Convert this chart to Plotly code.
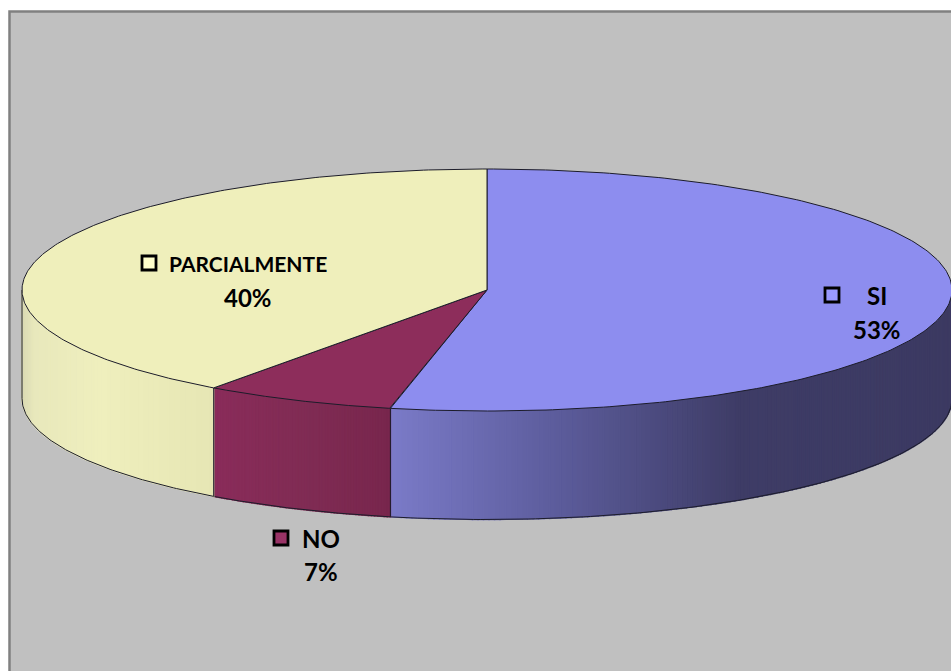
import numpy as np
import plotly.graph_objects as go

categories = ["SI", "NO", "PARCIALMENTE"]
values = [53.33, 6.67, 40.0]
value_labels = ["53%", "7%", "40%"]
top_colors = ["#8D8DEF", "#8D2D5B", "#EFEFBB"]
key_colors = ["#9999FF", "#993366", "#FFFFCC"]
# side shading: (fraction across visible slice width in x, left to right, colour)
side_stops = [
    [(0.0, (122, 122, 200)), (0.3, (92, 92, 155)), (0.62, (62, 60, 102)), (1.0, (60, 58, 98))],
    [(0.0, (138, 44, 90)), (0.5, (128, 44, 84)), (1.0, (120, 38, 77))],
    [(0.0, (218, 218, 178)), (0.06, (232, 232, 188)), (0.4, (239, 239, 189)), (1.0, (230, 230, 180))],
]
# label layout: key centre, name centre, value centre
key_pos = [(832, 295), (281, 538), (149, 263)]
name_pos = [(877, 295), (321, 538), (248, 263)]
value_pos = [(877, 329), (321, 571), (248, 297)]

W, H = 951, 671
CX, CY, RX, RY, DEPTH = 487, 290, 465, 121, 108.5
OUT = "#1c1c2a"


def ex(t):
    return CX + RX * np.sin(t)


def ey(t):
    return CY - RY * np.cos(t)


def shade(stops, f):
    xs = [s[0] for s in stops]
    rgb = [np.interp(f, xs, [s[1][i] for s in stops]) for i in range(3)]
    return "rgb(%d,%d,%d)" % tuple(int(round(v)) for v in rgb)


fig = go.Figure()
edges = np.concatenate([[0], np.cumsum(values)]) / sum(values) * 2 * np.pi


def poly(x, y, fill, line=None, width=1.0):
    fig.add_trace(go.Scatter(
        x=x, y=y, mode="lines", fill="toself" if fill else None, fillcolor=fill,
        line=dict(color=line or fill, width=width), hoverinfo="skip", showlegend=False))


# sides (front half of the rim only)
for i in range(3):
    a, b = max(edges[i], np.pi / 2), min(edges[i + 1], 3 * np.pi / 2)
    if b <= a:
        continue
    xa, xb = ex(a), ex(b)
    n = 150 if i == 0 else 60
    grid = np.linspace(a, b, n + 1)
    lo, hi = min(xa, xb), max(xa, xb)
    for j in range(n):
        tt = np.linspace(grid[j], grid[j + 1], 4)
        mid = (ex(grid[j]) + ex(grid[j + 1])) / 2
        c = shade(side_stops[i], (mid - lo) / (hi - lo))
        x = np.concatenate([ex(tt), ex(tt[::-1])])
        y = np.concatenate([ey(tt), ey(tt[::-1]) + DEPTH])
        poly(np.append(x, x[0]), np.append(y, y[0]), c, c, 1.4)
    # lower outline and vertical edges
    tt = np.linspace(a, b, 120)
    poly(ex(tt), ey(tt) + DEPTH, None, OUT, 1.0)
    for t in (a, b):
        poly([ex(t), ex(t)], [ey(t), ey(t) + DEPTH], None, OUT, 1.0)

# top faces
for i in range(3):
    tt = np.linspace(edges[i], edges[i + 1], 240)
    x = np.concatenate([[CX], ex(tt), [CX]])
    y = np.concatenate([[CY], ey(tt), [CY]])
    poly(x, y, top_colors[i], OUT, 1.0)

# label keys
fig.add_trace(go.Scatter(
    x=[p[0] for p in key_pos], y=[p[1] for p in key_pos], mode="markers",
    marker=dict(symbol="square", size=14, color=key_colors, line=dict(color="#000000", width=2.8)),
    hoverinfo="skip", showlegend=False))

for i in range(3):
    for pos, text in ((name_pos[i], categories[i]), (value_pos[i], value_labels[i])):
        size = 21 if text == "PARCIALMENTE" else 24
        fig.add_annotation(x=pos[0], y=pos[1], text="<b>%s</b>" % text, showarrow=False,
                           font=dict(family="Lato", size=size, color="#000000"),
                           xanchor="center", yanchor="middle")

fig.update_layout(
    width=W, height=H, margin=dict(l=0, r=0, t=0, b=0), autosize=False,
    paper_bgcolor="#FFFFFF", plot_bgcolor="#FFFFFF", showlegend=False,
    xaxis=dict(range=[0, W], visible=False, fixedrange=True),
    yaxis=dict(range=[H, 0], visible=False, fixedrange=True),
    shapes=[dict(type="rect", x0=9.5, y0=11.5, x1=W + 10, y1=H + 10, layer="below",
                 fillcolor="#C0C0C0", line=dict(color="#808080", width=2.5))],
)
fig.write_html("out.html", config={"displayModeBar": False},
               post_script="document.body.style.margin='0';document.documentElement.style.overflow='hidden';")
